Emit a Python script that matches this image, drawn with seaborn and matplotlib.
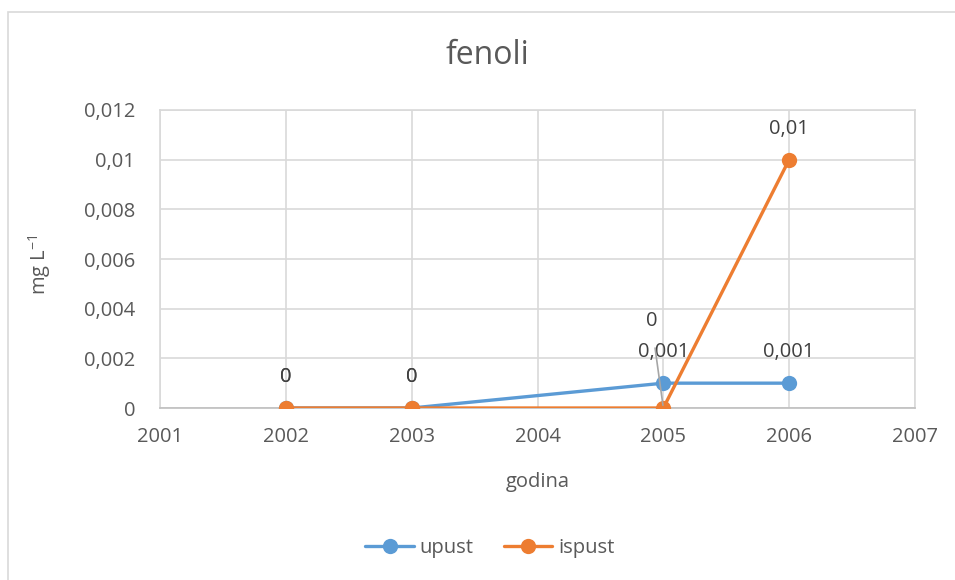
import matplotlib
matplotlib.use("Agg")
import matplotlib.pyplot as plt
from matplotlib.patches import Rectangle
from matplotlib.ticker import FuncFormatter, MultipleLocator
import pandas as pd
import seaborn as sns

# data
years = [2002, 2003, 2005, 2006]
upust = [0, 0, 0.001, 0.001]
ispust = [0, 0, 0, 0.01]
series_names = ["upust", "ispust"]
colors = ["#5b9bd5", "#ed7d31"]

TEXT = "#595959"
GRID = "#d9d9d9"
FS = 14.5


def comma(v, pos=None):
    return f"{v:g}".replace(".", ",")


df = pd.DataFrame({
    "godina": years * 2,
    "value": upust + ispust,
    "serija": ["upust"] * len(years) + ["ispust"] * len(years),
})

sns.set_theme(style="white")
plt.rcParams["font.family"] = ["Open Sans", "DejaVu Sans"]
plt.rcParams["mathtext.fontset"] = "custom"
plt.rcParams["mathtext.rm"] = "Open Sans"
plt.rcParams["mathtext.it"] = "Open Sans"

fig = plt.figure(figsize=(9.55, 5.8), dpi=100)
ax = fig.add_axes([160 / 955, 1 - 408 / 580, (915 - 160) / 955, (408 - 110) / 580])

sns.lineplot(
    data=df, x="godina", y="value", hue="serija", hue_order=series_names,
    palette=colors, marker="o", markersize=11, markeredgewidth=0,
    linewidth=2.4, ax=ax, legend=False, zorder=3,
)

ax.set_xlim(2001, 2007)
ax.set_ylim(0, 0.012)
ax.xaxis.set_major_locator(MultipleLocator(1))
ax.yaxis.set_major_locator(MultipleLocator(0.002))
ax.yaxis.set_major_formatter(FuncFormatter(comma))
ax.xaxis.set_major_formatter(FuncFormatter(lambda v, p: f"{int(v)}"))
ax.grid(True, color=GRID, linewidth=1.2)
ax.set_axisbelow(True)
for side, sp in ax.spines.items():
    sp.set_color(GRID)
    sp.set_linewidth(1.2)
ax.spines["bottom"].set_color("#bfbfbf")
ax.tick_params(axis="both", length=0, labelsize=FS, colors=TEXT)
ax.tick_params(axis="y", pad=18)
ax.tick_params(axis="x", pad=14)

ax.set_xlabel("godina", fontsize=FS, color=TEXT)
ax.set_ylabel("mg L$^{-1}$", fontsize=FS, color=TEXT)
ax.xaxis.set_label_coords(0.5, -(482 - 408) / 298)
ax.yaxis.set_label_coords(-(160 - 40) / 755, (408 - 265) / 298)
ax.xaxis.label.set_va("center")
ax.yaxis.label.set_va("center")
fig.text(487 / 955, 1 - 55 / 580, "fenoli", fontsize=23, color=TEXT,
         ha="center", va="center")

# data labels
for x, y in zip(years, upust):
    ax.annotate(comma(y), (x, y), xytext=(0, 31), textcoords="offset pixels",
                ha="center", va="center", fontsize=FS, color="#404040")
for x, y in zip(years, ispust):
    if x == 2005:
        ax.annotate(comma(y), (x, y), xytext=(-12, 87), textcoords="offset pixels",
                    ha="center", va="center", fontsize=FS, color="#404040",
                    arrowprops=dict(arrowstyle="-", color="#a6a6a6", lw=1.2,
                                    shrinkA=10, shrinkB=2))
    else:
        ax.annotate(comma(y), (x, y), xytext=(0, 31), textcoords="offset pixels",
                    ha="center", va="center", fontsize=FS, color="#404040")

handles = [
    plt.Line2D([], [], color=c, marker="o", markersize=11, markeredgewidth=0, linewidth=2.4)
    for c in colors
]
fig.legend(handles, series_names, loc="center", bbox_to_anchor=(490 / 955, 1 - 548 / 580),
           ncol=2, frameon=False, fontsize=FS, labelcolor=TEXT,
           handlelength=2.4, handletextpad=0.3, columnspacing=1.5)

# outer chart border
fig.add_artist(Rectangle((8 / 955, -0.1), 1.2, 1 - 12 / 580 + 0.1,
                         transform=fig.transFigure, fill=False,
                         edgecolor=GRID, linewidth=1.2))

fig.savefig("out.png", dpi=100, facecolor="white")
